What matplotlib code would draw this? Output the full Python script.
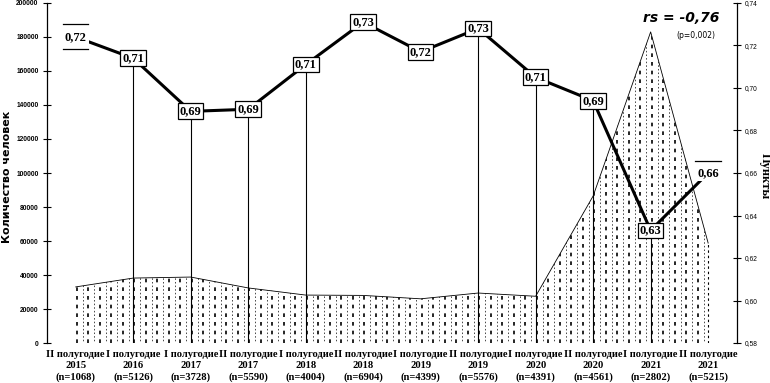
import matplotlib
matplotlib.use('Agg')
import matplotlib.pyplot as plt
import matplotlib.transforms as mtransforms
import numpy as np

periods = ['II полугодие', 'I полугодие', 'I полугодие', 'II полугодие',
           'I полугодие', 'II полугодие', 'I полугодие', 'II полугодие',
           'I полугодие', 'II полугодие', 'I полугодие', 'II полугодие']
years = ['2015', '2016', '2017', '2017', '2018', '2018',
         '2019', '2019', '2020', '2020', '2021', '2021']
n_resp = [1068, 5126, 3728, 5590, 4004, 6904, 4399, 5576, 4391, 4561, 2802, 5215]

# number of people (left axis, area)
people = [33000, 38200, 38800, 32400, 28200, 28000,
          26000, 29400, 27500, 86500, 183000, 58800]
# points (right axis, line)
points = [0.724, 0.714, 0.689, 0.690, 0.711, 0.731,
          0.717, 0.728, 0.705, 0.694, 0.633, 0.660]
point_labels = ['0,72', '0,71', '0,69', '0,69', '0,71', '0,73',
                '0,72', '0,73', '0,71', '0,69', '0,63', '0,66']
drop_idx = [1, 2, 3, 4, 7, 8, 9, 10]

serif = 'Liberation Serif'

fig = plt.figure(figsize=(7.7, 3.83), dpi=100)
ax = fig.add_axes([0.061, 0.1044, 0.896, 0.8878])
x = np.arange(len(people))

# area with dashed vertical fill pattern
poly = ax.fill_between(x, people, 0, facecolor='white', edgecolor='none', zorder=1)
ax.plot(x, people, color='black', lw=0.6, zorder=3)
clip = poly.get_paths()[0]
for i, xv in enumerate(np.arange(0.02, 11.01, 0.1)):
    bold = i % 2 == 0
    ln = ax.axvline(xv, color='black', lw=1.2 if bold else 0.5,
                    ls=(0 if bold else 2, (2.2, 3.0)), zorder=2)
    ln.set_clip_path(clip, ax.transData)
ax.plot([x[-1], x[-1]], [0, people[-1]], color='black', lw=0.8,
        ls=(0, (2.2, 2.6)), zorder=2)

ax.set_xlim(-0.5, 11.5)
ax.set_ylim(0, 200000)
ax.set_yticks(np.arange(0, 200001, 20000))
ax.set_yticklabels([f'{v:d}' for v in range(0, 200001, 20000)],
                   fontsize=4.8, family='Liberation Sans', fontweight='bold')
ax.set_xticks(x)
ax.set_xticklabels([f'{p}\n{y}\n(n={n})' for p, y, n in zip(periods, years, n_resp)],
                   fontsize=7.6, fontweight='bold', family=serif, linespacing=1.3)
ax.tick_params(axis='x', length=0, pad=5)
ax.tick_params(axis='y', direction='inout', length=6, width=0.8, pad=3)
for s in ['top', 'bottom', 'right']:
    ax.spines[s].set_visible(False)
ax.spines['left'].set_linewidth(0.9)
ax.set_ylabel('Количество человек', fontsize=8, fontweight='bold')
ax.yaxis.set_label_coords(-0.051, 0.49)

# line on right axis
ax2 = ax.twinx()
ax2.set_ylim(0.58, 0.74)
ax2.set_xlim(-0.5, 11.5)
ax2.plot(x, points, color='black', lw=2.2, zorder=3)
for i in drop_idx:
    ax2.plot([x[i], x[i]], [0.58, points[i]], color='black', lw=0.8, zorder=2)
for i, (xv, yv, lab) in enumerate(zip(x, points, point_labels)):
    boxed = i not in (0, len(x) - 1)
    bbox = dict(boxstyle='square,pad=0.15', facecolor='white',
                edgecolor='black' if boxed else 'none', lw=0.9)
    ax2.text(xv, yv, lab, ha='center', va='center', fontsize=9,
             fontweight='bold', family=serif, bbox=bbox, zorder=5)
    if not boxed:
        offs = [9] if i == len(x) - 1 else [9, -9]
        for o in offs:
            shift = mtransforms.ScaledTranslation(0, o / 72, fig.dpi_scale_trans)
            ax2.plot([xv - 0.22, xv + 0.22], [yv, yv], color='black', lw=0.9,
                     transform=ax2.transData + shift, zorder=5)

ax2.set_yticks(np.arange(0.58, 0.7401, 0.02))
ax2.set_yticklabels([f'{v:.2f}'.replace('.', ',') for v in np.arange(0.58, 0.7401, 0.02)],
                    fontsize=4.8, family='Liberation Sans')
ax2.tick_params(axis='y', direction='inout', length=6, width=0.8, pad=3)
for s in ['top', 'bottom', 'left']:
    ax2.spines[s].set_visible(False)
ax2.spines['right'].set_linewidth(0.9)
ax2.set_ylabel('Пункты', fontsize=9, fontweight='bold', family=serif, rotation=270)
ax2.yaxis.set_label_coords(1.049, 0.49)

ax2.text(0.975, 0.955, 'rs = -0,76', transform=ax2.transAxes, ha='right', va='center',
         fontsize=10, fontweight='bold', fontstyle='italic')
ax2.text(0.94, 0.905, '(p=0,002)', transform=ax2.transAxes, ha='center', va='center',
         fontsize=5.5)

fig.savefig('out.png', dpi=100)
